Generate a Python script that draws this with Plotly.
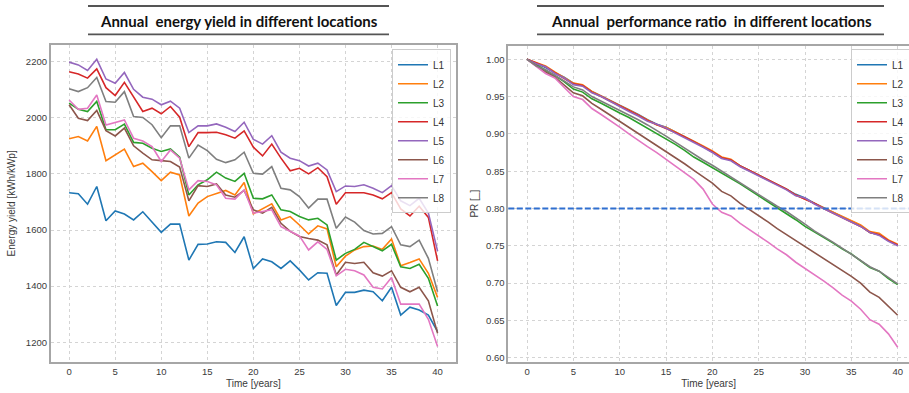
import plotly.graph_objects as go

# ---------------- data ----------------
years = list(range(0, 41))
locations = ["L1", "L2", "L3", "L4", "L5", "L6", "L7", "L8"]
colors = ["#1f77b4", "#ff7f0e", "#2ca02c", "#d62728",
          "#9467bd", "#8c564b", "#e377c2", "#7f7f7f"]

yield_L1 = [1733, 1729, 1692, 1755, 1633, 1668, 1657, 1636, 1665, 1630, 1592, 1621, 1621, 1493, 1549, 1550, 1558, 1556, 1520, 1576, 1463,
            1497, 1487, 1463, 1490, 1458, 1422, 1448, 1446, 1331, 1378, 1378, 1386, 1380, 1348, 1396, 1297, 1325, 1315, 1297, 1238]
yield_L2 = [1925, 1933, 1917, 1969, 1847, 1868, 1888, 1826, 1838, 1808, 1776, 1806, 1796, 1650, 1696, 1719, 1731, 1741, 1725, 1769, 1658,
            1675, 1693, 1636, 1648, 1618, 1586, 1615, 1604, 1469, 1507, 1529, 1541, 1543, 1531, 1568, 1473, 1484, 1497, 1446, 1360]
yield_L3 = [2052, 2030, 2022, 2058, 1957, 1957, 1977, 1912, 1909, 1891, 1880, 1889, 1859, 1725, 1761, 1779, 1806, 1785, 1773, 1802, 1713,
            1711, 1725, 1672, 1666, 1648, 1636, 1642, 1618, 1493, 1517, 1531, 1556, 1541, 1526, 1549, 1469, 1463, 1478, 1428, 1329]
yield_L4 = [2164, 2156, 2141, 2174, 2107, 2079, 2126, 2075, 2022, 2034, 2014, 2040, 2002, 1897, 1947, 1947, 1948, 1939, 1927, 1953, 1895,
            1864, 1906, 1856, 1811, 1820, 1800, 1822, 1790, 1692, 1733, 1733, 1733, 1725, 1711, 1733, 1675, 1650, 1685, 1645, 1490]
yield_L5 = [2198, 2188, 2168, 2208, 2138, 2123, 2161, 2101, 2073, 2066, 2046, 2059, 2034, 1947, 1971, 1971, 1978, 1966, 1951, 1984, 1923,
            1906, 1936, 1877, 1856, 1847, 1828, 1838, 1814, 1737, 1757, 1755, 1761, 1749, 1733, 1758, 1704, 1687, 1713, 1660, 1525]
yield_L6 = [2046, 1998, 1990, 2026, 1954, 1935, 1963, 1900, 1874, 1850, 1847, 1844, 1824, 1704, 1758, 1755, 1764, 1725, 1717, 1741, 1672,
            1660, 1681, 1624, 1595, 1577, 1570, 1564, 1547, 1440, 1485, 1481, 1485, 1448, 1436, 1455, 1396, 1380, 1396, 1348, 1232]
yield_L7 = [2063, 2030, 2034, 2081, 1974, 1984, 1992, 1927, 1917, 1897, 1844, 1885, 1856, 1743, 1776, 1773, 1761, 1713, 1710, 1743, 1660,
            1666, 1672, 1612, 1595, 1579, 1529, 1558, 1531, 1437, 1460, 1455, 1440, 1396, 1390, 1431, 1336, 1336, 1336, 1282, 1185]
yield_L8 = [2103, 2093, 2107, 2143, 2058, 2055, 2093, 2004, 2001, 1975, 1929, 1971, 1971, 1856, 1903, 1883, 1852, 1840, 1850, 1877, 1802,
            1799, 1826, 1749, 1743, 1719, 1678, 1710, 1710, 1606, 1646, 1628, 1598, 1586, 1588, 1612, 1547, 1541, 1564, 1499, 1380]

pr_L1 = [1.000, 0.995, 0.989, 0.982, 0.976, 0.968, 0.965, 0.957, 0.951, 0.944, 0.938, 0.932, 0.926, 0.919, 0.913, 0.909, 0.903, 0.897, 0.890, 0.883, 0.876,
         0.868, 0.865, 0.857, 0.851, 0.845, 0.839, 0.833, 0.826, 0.819, 0.814, 0.807, 0.801, 0.795, 0.789, 0.783, 0.777, 0.768, 0.765, 0.757, 0.751]
pr_L2 = [1.000, 0.996, 0.991, 0.983, 0.976, 0.968, 0.966, 0.957, 0.951, 0.944, 0.938, 0.932, 0.925, 0.918, 0.912, 0.909, 0.903, 0.897, 0.891, 0.884, 0.877,
         0.869, 0.866, 0.857, 0.851, 0.845, 0.839, 0.833, 0.826, 0.818, 0.813, 0.807, 0.801, 0.795, 0.790, 0.784, 0.778, 0.769, 0.767, 0.758, 0.752]
pr_L3 = [1.000, 0.993, 0.985, 0.978, 0.970, 0.960, 0.956, 0.947, 0.941, 0.934, 0.928, 0.922, 0.915, 0.908, 0.901, 0.894, 0.886, 0.878, 0.869, 0.862, 0.855,
         0.847, 0.841, 0.833, 0.825, 0.817, 0.810, 0.802, 0.794, 0.785, 0.776, 0.769, 0.762, 0.754, 0.746, 0.739, 0.730, 0.721, 0.716, 0.706, 0.698]
pr_L4 = [1.000, 0.995, 0.990, 0.982, 0.975, 0.967, 0.965, 0.956, 0.950, 0.944, 0.937, 0.931, 0.925, 0.918, 0.913, 0.908, 0.902, 0.896, 0.890, 0.883, 0.876,
         0.868, 0.865, 0.857, 0.851, 0.845, 0.839, 0.832, 0.826, 0.818, 0.813, 0.807, 0.800, 0.794, 0.789, 0.782, 0.776, 0.768, 0.765, 0.757, 0.751]
pr_L5 = [1.000, 0.994, 0.990, 0.981, 0.975, 0.966, 0.964, 0.955, 0.950, 0.943, 0.937, 0.930, 0.924, 0.917, 0.913, 0.908, 0.901, 0.895, 0.889, 0.882, 0.875,
         0.867, 0.864, 0.856, 0.850, 0.844, 0.838, 0.832, 0.825, 0.817, 0.814, 0.806, 0.800, 0.794, 0.788, 0.782, 0.776, 0.768, 0.764, 0.756, 0.750]
pr_L6 = [1.000, 0.991, 0.983, 0.976, 0.966, 0.955, 0.951, 0.941, 0.933, 0.925, 0.917, 0.909, 0.900, 0.893, 0.885, 0.877, 0.868, 0.860, 0.851, 0.843, 0.834,
         0.823, 0.817, 0.807, 0.799, 0.791, 0.782, 0.773, 0.765, 0.757, 0.750, 0.741, 0.734, 0.726, 0.717, 0.709, 0.700, 0.688, 0.681, 0.669, 0.657]
pr_L7 = [1.000, 0.990, 0.981, 0.975, 0.963, 0.950, 0.946, 0.934, 0.926, 0.918, 0.909, 0.900, 0.891, 0.883, 0.875, 0.866, 0.857, 0.848, 0.839, 0.826, 0.806,
         0.795, 0.790, 0.780, 0.772, 0.764, 0.755, 0.746, 0.738, 0.728, 0.720, 0.711, 0.703, 0.694, 0.684, 0.676, 0.665, 0.651, 0.645, 0.632, 0.614]
pr_L8 = [1.000, 0.991, 0.986, 0.979, 0.971, 0.963, 0.959, 0.950, 0.944, 0.938, 0.931, 0.925, 0.919, 0.912, 0.905, 0.897, 0.889, 0.881, 0.872, 0.865, 0.858,
         0.850, 0.843, 0.835, 0.827, 0.819, 0.811, 0.803, 0.796, 0.788, 0.779, 0.770, 0.763, 0.755, 0.747, 0.739, 0.731, 0.722, 0.716, 0.707, 0.699]

pr_threshold = 0.80

yield_series = [yield_L1, yield_L2, yield_L3, yield_L4, yield_L5, yield_L6, yield_L7, yield_L8]
pr_series = [pr_L1, pr_L2, pr_L3, pr_L4, pr_L5, pr_L6, pr_L7, pr_L8]

yield_ticks = [1200, 1400, 1600, 1800, 2000, 2200]
pr_ticks = [0.60, 0.65, 0.70, 0.75, 0.80, 0.85, 0.90, 0.95, 1.00]
year_ticks = [0, 5, 10, 15, 20, 25, 30, 35, 40]

title_left = "Annual\u00a0 energy yield in different locations"
title_right = "Annual\u00a0 performance ratio\u00a0 in different locations"

# ---------------- figure ----------------
W, H = 909, 393
fig = go.Figure()

for name, col, ys in zip(locations, colors, yield_series):
    fig.add_trace(go.Scatter(x=years, y=ys, name=name, mode="lines",
                             line=dict(color=col, width=1.6),
                             xaxis="x", yaxis="y", legend="legend"))
for name, col, ys in zip(locations, colors, pr_series):
    fig.add_trace(go.Scatter(x=years, y=ys, name=name, mode="lines",
                             line=dict(color=col, width=1.6),
                             xaxis="x2", yaxis="y2", legend="legend2"))

tickfont = dict(family="Liberation Sans, Arial, sans-serif", size=9.5, color="#3a3a3a")
titlefont = dict(family="Liberation Sans, Arial, sans-serif", size=10, color="#3a3a3a")
frame = "#a6a6a6"
grid = "#d4d4d4"

common = dict(showgrid=True, gridcolor=grid, griddash="dot", gridwidth=1,
              zeroline=False, showline=True, linecolor=frame, linewidth=1.6,
              ticks="", tickfont=tickfont, automargin=False)

def px_x(p):
    return p / W

def px_y(p):
    return 1 - p / H

legend_style = dict(bgcolor="rgba(255,255,255,0.8)", bordercolor="#cccccc", borderwidth=1,
                    font=dict(family="Liberation Sans, Arial, sans-serif", size=10, color="#333333"),
                    itemwidth=30, tracegroupgap=0)

fig.update_layout(
    width=W, height=H,
    margin=dict(l=0, r=0, t=0, b=0, autoexpand=False),
    paper_bgcolor="white", plot_bgcolor="white",
    showlegend=True,
    xaxis=dict(domain=[px_x(50.7), px_x(456)], range=[-2, 42], tickvals=year_ticks,
               mirror=True, anchor="y",
               title=dict(text="Time [years]", font=titlefont, standoff=4), **common),
    yaxis=dict(domain=[px_y(361.7), px_y(45)], range=[1131, 2259], tickvals=yield_ticks,
               mirror=True, anchor="x",
               title=dict(text="Energy yield [kWh/kWp]", font=titlefont, standoff=8), **common),
    xaxis2=dict(domain=[px_x(508.3), 1.0], range=[-2.02, 41.22], tickvals=year_ticks,
                mirror=True, anchor="y2",
                title=dict(text="Time [years]", font=titlefont, standoff=4), **common),
    yaxis2=dict(domain=[px_y(361.7), px_y(45.7)], range=[0.5947, 1.0182], tickvals=pr_ticks,
                tickformat=".2f", mirror=False, anchor="x2",
                title=dict(text="PR [_]", font=titlefont, standoff=6), **common),
    legend=dict(x=px_x(451), y=px_y(49.3), xanchor="right", yanchor="top", **legend_style),
    legend2=dict(x=px_x(851), y=px_y(49.3), xanchor="left", yanchor="top", **legend_style),
)

# threshold line on PR chart
fig.add_shape(type="line", xref="x2 domain", yref="y2", x0=0, x1=1,
              y0=pr_threshold, y1=pr_threshold,
              line=dict(color="#2f6fd0", width=2.2, dash="6px,2.5px"))

# titles with rules above and below
title_font = dict(family="Lato, Open Sans, sans-serif", size=15, color="#111111")
for text, cx, x0, x1 in [(title_left, 238.5, 88, 389), (title_right, 711, 537, 884)]:
    fig.add_annotation(text="<b>" + text + "</b>", xref="paper", yref="paper",
                       x=px_x(cx), y=px_y(21), xanchor="center", yanchor="middle",
                       showarrow=False, font=title_font)
    for yy in (6, 34.3):
        fig.add_shape(type="line", xref="paper", yref="paper",
                      x0=px_x(x0), x1=px_x(x1), y0=px_y(yy), y1=px_y(yy),
                      line=dict(color="#555555", width=1.8))

fig.write_html("out.html")
